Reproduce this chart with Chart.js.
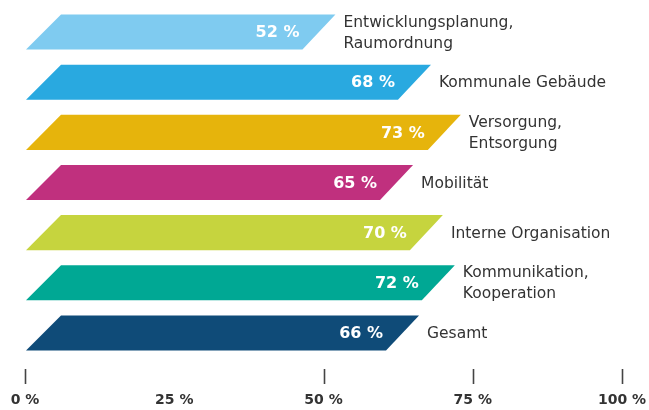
<!DOCTYPE html>
<html>
<head>
<meta charset="utf-8">
<script src="https://cdn.jsdelivr.net/npm/chart.js@4.4.1/dist/chart.umd.min.js"></script>
<style>
  html, body { margin: 0; padding: 0; background: #ffffff; }
  #wrap { width: 649px; height: 410px; position: relative; }
</style>
</head>
<body>
<div id="wrap"><canvas id="c" width="649" height="410"></canvas></div>
<script>
// ---- data ----
const categories = [
  ["Entwicklungsplanung,", "Raumordnung"],
  ["Kommunale Gebäude"],
  ["Versorgung,", "Entsorgung"],
  ["Mobilität"],
  ["Interne Organisation"],
  ["Kommunikation,", "Kooperation"],
  ["Gesamt"]
];
const values = [52, 68, 73, 65, 70, 72, 66];
const tickValues = [0, 25, 50, 75, 100];
const tickLabels = ["0 %", "25 %", "50 %", "75 %", "100 %"];
const tickMarksShown = [0, 50, 75, 100];

// ---- style ----
const barColors = ["#7fcbf0", "#29a9e0", "#e6b40c", "#c0307e", "#c6d43e", "#00a894", "#0f4b78"];

const slantPlugin = {
  id: 'slant',
  afterDatasetsDraw(chart) {
    const ctx = chart.ctx;
    const meta = chart.getDatasetMeta(0);
    ctx.save();
    meta.data.forEach((bar, i) => {
      const p = bar.getProps(['x', 'y', 'base', 'height'], true);
      const top = p.y - p.height / 2;
      const bot = p.y + p.height / 2;
      ctx.beginPath();
      ctx.moveTo(p.base + 36, top);
      ctx.lineTo(p.x, top);
      ctx.lineTo(p.x - 33, bot);
      ctx.lineTo(p.base + 1, bot);
      ctx.closePath();
      ctx.fillStyle = barColors[i];
      ctx.fill();
      // value label
      ctx.fillStyle = '#ffffff';
      ctx.font = 'bold 16px "DejaVu Sans"';
      ctx.textAlign = 'right';
      ctx.textBaseline = 'middle';
      ctx.fillText(values[i] + ' %', p.x - 36, p.y + 1);
      // category label
      ctx.fillStyle = '#333333';
      ctx.font = '15.5px "DejaVu Sans"';
      ctx.textAlign = 'left';
      const lines = categories[i];
      const lh = 21;
      lines.forEach((ln, k) => {
        const yy = p.y + (k - (lines.length - 1) / 2) * lh + 1;
        ctx.fillText(ln, p.x + 8, yy);
      });
    });
    // tick marks
    const xs = chart.scales.x;
    const ca = chart.chartArea;
    ctx.strokeStyle = '#444444';
    ctx.lineWidth = 1.6;
    tickMarksShown.forEach(v => {
      const px = Math.round(xs.getPixelForValue(v)) + 0.5;
      ctx.beginPath();
      ctx.moveTo(px, ca.bottom + 11);
      ctx.lineTo(px, ca.bottom + 26);
      ctx.stroke();
    });
    ctx.restore();
  }
};

new Chart(document.getElementById('c'), {
  type: 'bar',
  data: {
    labels: categories.map(c => c.join(' ')),
    datasets: [{
      data: values,
      backgroundColor: 'rgba(0,0,0,0)',
      borderWidth: 0,
      barPercentage: 0.7,
      categoryPercentage: 1.0
    }]
  },
  options: {
    indexAxis: 'y',
    responsive: false,
    animation: false,
    events: [],
    layout: { padding: { left: 25, right: 27, top: 7, bottom: 0 } },
    plugins: { legend: { display: false }, tooltip: { enabled: false } },
    scales: {
      x: {
        min: 0, max: 100,
        grid: { display: false },
        border: { display: false },
        afterBuildTicks(scale) { scale.ticks = tickValues.map(v => ({ value: v })); },
        afterFit(scale) { scale.height = 52; scale.paddingLeft = 0; scale.paddingRight = 0; },
        ticks: {
          padding: 26,
          color: '#333333',
          font: { family: 'DejaVu Sans', size: 14, weight: 'bold' },
          callback(v) { const i = tickValues.indexOf(v); return i >= 0 ? tickLabels[i] : ''; }
        }
      },
      y: { display: false }
    }
  },
  plugins: [slantPlugin]
});
</script>
</body>
</html>
